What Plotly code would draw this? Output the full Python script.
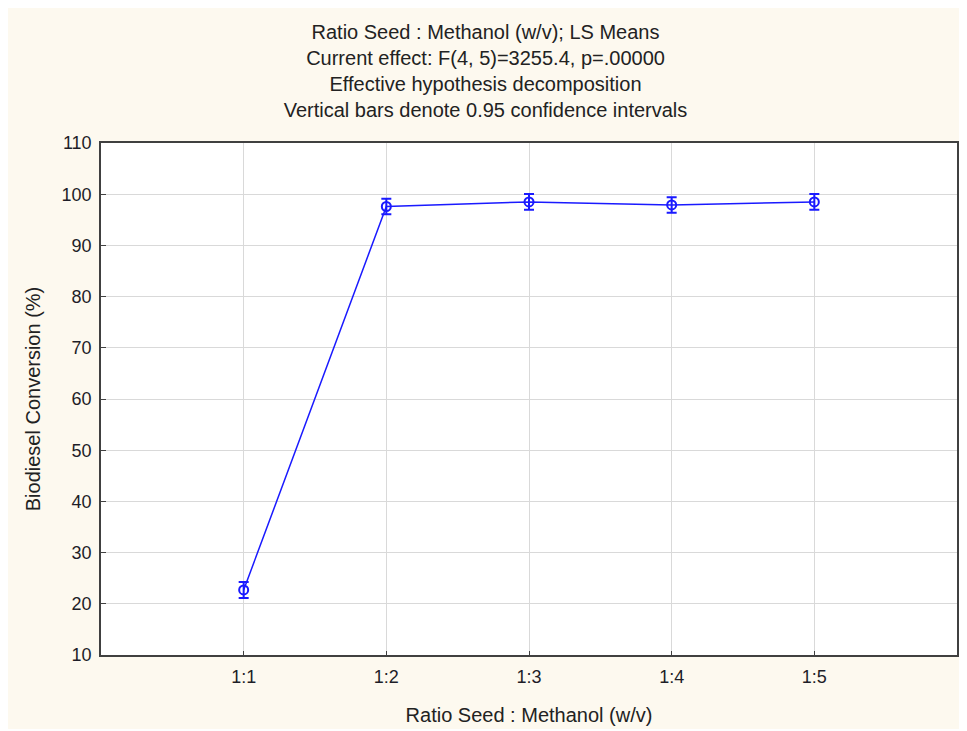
import plotly.graph_objects as go

# LS means for each seed:methanol ratio, with 0.95 CI half-widths
ratios = ['1:1', '1:2', '1:3', '1:4', '1:5']
ratio_pos = [1, 2, 3, 4, 5]
conversion = [22.7, 97.6, 98.5, 97.9, 98.5]
ci_half = [1.55, 1.5, 1.55, 1.5, 1.55]

y_ticks = [10, 20, 30, 40, 50, 60, 70, 80, 90, 100, 110]

title_lines = [
    'Ratio Seed : Methanol (w/v); LS Means',
    'Current effect: F(4, 5)=3255.4, p=.00000',
    'Effective hypothesis decomposition',
    'Vertical bars denote 0.95 confidence intervals',
]

blue = '#1a1aff'
cream = '#fdf9ef'
font = 'Liberation Sans, Arial, sans-serif'

fig = go.Figure()
fig.add_trace(go.Scatter(
    x=ratio_pos,
    y=conversion,
    mode='lines+markers',
    line=dict(color=blue, width=1.5),
    marker=dict(symbol='circle-open', size=9, color=blue, line=dict(width=2, color=blue)),
    error_y=dict(type='data', array=ci_half, visible=True,
                 color=blue, thickness=2, width=5),
    showlegend=False,
))

# page body adds ~8px offset, so the figure is a bit smaller than the window
fig.update_layout(
    width=955, height=721,
    paper_bgcolor=cream,
    plot_bgcolor='white',
    margin=dict(l=93, r=4, t=135, b=74),
    font=dict(family=font, size=18, color='#1e1e28'),
    title=dict(
        text='<br>'.join(title_lines),
        x=0.5, xref='container', xanchor='center',
        y=0.957, yref='container', yanchor='top',
        font=dict(family=font, size=20, color='#222222'),
    ),
)

fig.update_xaxes(
    range=[0, 6],
    tickmode='array', tickvals=ratio_pos, ticktext=ratios,
    showgrid=True, gridcolor='#d9d9d9', gridwidth=1,
    showline=True, linecolor='#404040', linewidth=1.5, mirror=True,
    ticks='inside', ticklen=4, tickcolor='#404040',
    ticklabelstandoff=5,
    zeroline=False,
    title=dict(text='Ratio Seed : Methanol (w/v)', font=dict(size=20, color='#222222'),
               standoff=22),
)
fig.update_yaxes(
    range=[10, 110],
    tickmode='array', tickvals=y_ticks,
    showgrid=True, gridcolor='#d9d9d9', gridwidth=1,
    showline=True, linecolor='#404040', linewidth=1.5, mirror=True,
    ticks='inside', ticklen=5, tickcolor='#404040',
    ticklabelstandoff=4,
    zeroline=False,
    title=dict(text='Biodiesel Conversion (%)', font=dict(size=20, color='#222222'),
               standoff=16),
)

fig.write_html('out.html')
